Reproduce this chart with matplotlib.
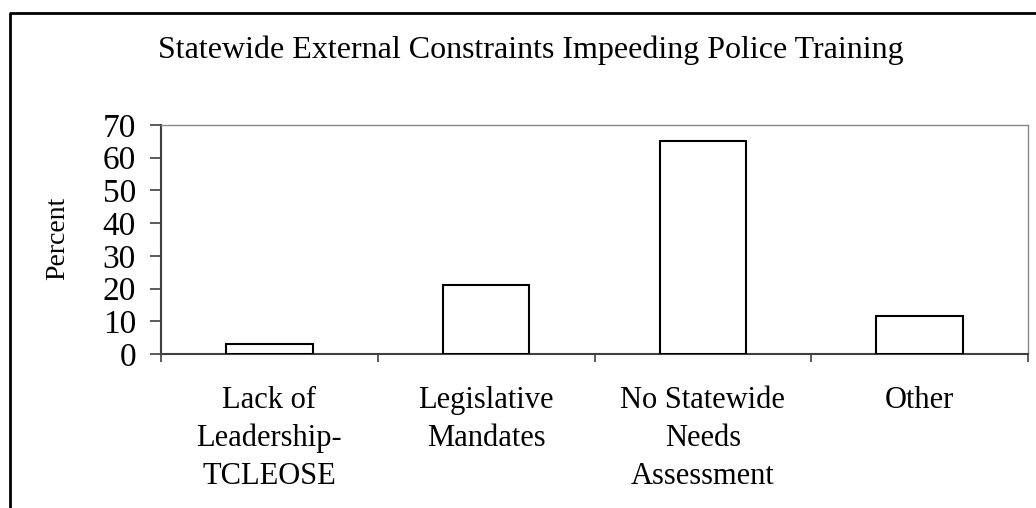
"""
Statewide external constraints impeding police training - bar chart.
"""
import matplotlib
matplotlib.use('Agg')
import matplotlib.pyplot as plt
from matplotlib.lines import Line2D

CATEGORIES = ['Lack of\nLeadership-\nTCLEOSE', 'Legislative\nMandates',
              'No Statewide\nNeeds\nAssessment', 'Other']
PERCENTS = [3, 21, 65, 11.6]
Y_TICKS = [0, 10, 20, 30, 40, 50, 60, 70]
TITLE = 'Statewide External Constraints Impeeding Police Training'

W, H = 1036, 508

plt.rcParams['font.family'] = ['Liberation Serif', 'DejaVu Serif']

fig = plt.figure(figsize=(W / 100, H / 100), dpi=100)
ax = fig.add_axes([161 / W, 1 - 354 / H, 867 / W, 229 / H])

x = list(range(len(CATEGORIES)))
ax.bar(x, PERCENTS, width=0.4, color='white', edgecolor='black', linewidth=1.5, zorder=3)

ax.set_xlim(-0.5, len(CATEGORIES) - 0.5)
ax.set_ylim(0, 70)
ax.set_yticks(Y_TICKS)
ax.tick_params(axis='y', direction='out', length=8, width=1.2, color='#404040',
               labelsize=24, pad=10)

# labels at category centres, ticks at category boundaries
ax.set_xticks(x)
ax.set_xticklabels(CATEGORIES, fontsize=22, linespacing=1.4)
ax.tick_params(axis='x', which='major', length=0, pad=23)
ax.set_xticks([i - 0.5 for i in range(len(CATEGORIES) + 1)], minor=True)
ax.tick_params(axis='x', which='minor', direction='out', length=6, width=1.2, color='#404040')

for side in ['left', 'bottom']:
    ax.spines[side].set_color('#404040')
    ax.spines[side].set_linewidth(1.5)
for side in ['top', 'right']:
    ax.spines[side].set_color('#888888')
    ax.spines[side].set_linewidth(1.0)

fig.text(58 / W, 1 - 238 / H, 'Percent', rotation=90, ha='center', va='center', fontsize=20)
fig.text(531 / W, 1 - 58 / H, TITLE, ha='center', va='baseline', fontsize=23)

# outer frame (only left and top edges visible in the crop)
fig.add_artist(Line2D([9.5 / W, 9.5 / W, 1.0], [0.0, 1 - 13 / H, 1 - 13 / H],
                      transform=fig.transFigure, color='black', linewidth=2))

fig.savefig('out.png', dpi=100)
